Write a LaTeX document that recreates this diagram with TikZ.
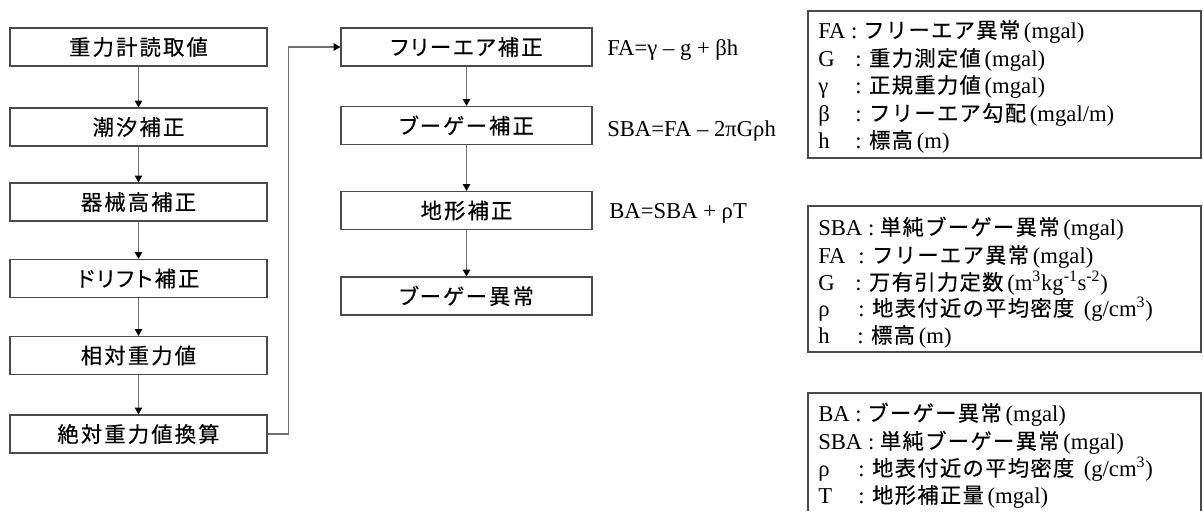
\documentclass[tikz,border=0pt]{standalone}
\usepackage{fontspec}
\setmainfont{Liberation Serif}
\newfontfamily\jpl{Noto Sans CJK JP}[LetterSpace=6,FakeBold=0.3]
\newfontfamily\jpsp{Noto Sans CJK JP}[LetterSpace=10,RawFeature=+palt,FakeBold=0.4]
\usetikzlibrary{arrows.meta}
\definecolor{linegray}{HTML}{4A4A4A}
\definecolor{arrowgray}{HTML}{6E6E6E}
\newcommand\lgsym[2]{\makebox[#1][l]{#2}}
\newcommand\jtxt[1]{{\jpl\fontsize{16}{20}\selectfont #1}}
\tikzset{
  stepbox/.style={draw=linegray, line width=0.9pt, minimum height=28.5pt, inner sep=0pt,
    font=\jpsp\fontsize{16}{20}\selectfont},
  leftbox/.style={stepbox, minimum width=192.75pt},
  midbox/.style={stepbox, minimum width=188.25pt},
  flow/.style={draw=arrowgray, line width=0.8pt, -{Triangle[length=5pt,width=5.5pt,color=black]}},
  formula/.style={anchor=base west, inner sep=0pt, font=\fontsize{17}{20}\selectfont},
  legend/.style={anchor=base west, inner sep=0pt, font=\fontsize{17}{20}\selectfont},
  frame/.style={draw=linegray, line width=0.9pt}
}
\begin{document}
\begin{tikzpicture}[x=0.75pt,y=-0.75pt]
\useasboundingbox (0,0) rectangle (1203,511);
% left column
\node[leftbox] (b1) at (138.5,47) {重力計読取値};
\node[leftbox] (b2) at (138.5,127) {潮汐補正};
\node[leftbox] (b3) at (138.5,202) {器械高補正};
\node[leftbox] (b4) at (138.5,278.5) {ドリフト補正};
\node[leftbox] (b5) at (138.5,355.5) {相対重力値};
\node[leftbox] (b6) at (138.5,434) {絶対重力値換算};
% middle column
\node[midbox] (m1) at (466.5,47) {フリーエア補正};
\node[midbox] (m2) at (466.5,125.5) {ブーゲー補正};
\node[midbox] (m3) at (466.5,210.5) {地形補正};
\node[midbox] (m4) at (466.5,296) {ブーゲー異常};
% connectors
\draw[flow] (b1) -- (b2);
\draw[flow] (b2) -- (b3);
\draw[flow] (b3) -- (b4);
\draw[flow] (b4) -- (b5);
\draw[flow] (b5) -- (b6);
\draw[flow] (b6.east) -- ++(21,0) |- (m1.west);
\draw[flow] (m1) -- (m2);
\draw[flow] (m2) -- (m3);
\draw[flow] (m3) -- (m4);
% formulas
\node[formula] (f1) at (607,55) {FA=γ – g + βh};
\node[formula] (f2) at (607,136) {SBA=FA – 2πGρh};
\node[formula] (f3) at (609,218) {BA=SBA + ρT};
% legend frames
\draw[frame] (808,11) rectangle (1201,158);
\draw[frame] (808,206) rectangle (1201,352);
\draw[frame] (808,511) -- (808,393) -- (1201,393) -- (1201,511);
% legend 1
\node[legend] (l11) at (818,38) {FA : \jtxt{フリーエア異常}\,(mgal)};
\node[legend] (l12) at (818,66) {\lgsym{27.75pt}{G}: \jtxt{重力測定値}\,(mgal)};
\node[legend] (l13) at (818,93) {\lgsym{27.75pt}{γ}: \jtxt{正規重力値}\,(mgal)};
\node[legend] (l14) at (818,121) {\lgsym{27.75pt}{β}: \jtxt{フリーエア勾配}\,(mgal/m)};
\node[legend] (l15) at (818,148) {\lgsym{27.75pt}{h}: \jtxt{標高}\,(m)};
% legend 2
\node[legend] (l21) at (818,235) {SBA : \jtxt{単純ブーゲー異常}\,(mgal)};
\node[legend] (l22) at (818,263) {\lgsym{30pt}{FA}: \jtxt{フリーエア異常}\,(mgal)};
\node[legend] (l23) at (818,290) {\lgsym{27.75pt}{G}: \jtxt{万有引力定数}\,(m\textsuperscript{3}kg\textsuperscript{-1}s\textsuperscript{-2})};
\node[legend] (l24) at (818,316) {\lgsym{30pt}{ρ}: \jtxt{地表付近の平均密度}\ \,(g/cm\textsuperscript{3})};
\node[legend] (l25) at (818,343) {\lgsym{29.25pt}{h}: \jtxt{標高}\,(m)};
% legend 3
\node[legend] (l31) at (818,421) {BA : \jtxt{ブーゲー異常}\,(mgal)};
\node[legend] (l32) at (818,449) {SBA : \jtxt{単純ブーゲー異常}\,(mgal)};
\node[legend] (l33) at (818,476) {\lgsym{30pt}{ρ}: \jtxt{地表付近の平均密度}\ \,(g/cm\textsuperscript{3})};
\node[legend] (l34) at (818,503) {\lgsym{30pt}{T}: \jtxt{地形補正量}\,(mgal)};
\end{tikzpicture}
\end{document}
